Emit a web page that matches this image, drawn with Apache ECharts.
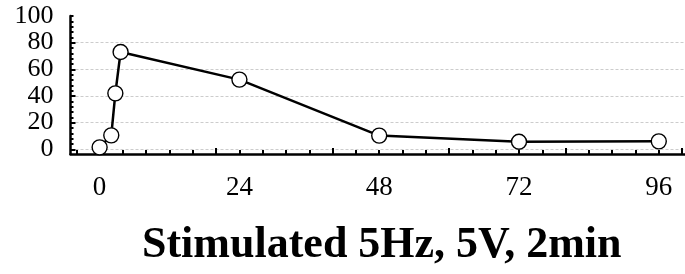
<!DOCTYPE html>
<html>
<head>
<meta charset="utf-8">
<script src="https://cdn.jsdelivr.net/npm/echarts@6/dist/echarts.min.js"></script>
<style>
  html, body { margin: 0; padding: 0; background: #fff; }
  #chart { width: 685px; height: 274px; }
</style>
</head>
<body>
<div id="chart"></div>
<script>
// time (h) and response values
var hours = [0, 2, 2.7, 3.6, 24, 48, 72, 96];
var values = [1.5, 10.5, 42, 73, 52.3, 10.3, 5.7, 6];

var xLabels = [0, 24, 48, 72, 96];
var xMajorTicks = [0, 20, 40, 60, 80, 100];
var xMinorTicks = [-4, 0, 4, 8, 12, 16, 20, 24, 28, 32, 36, 40, 44, 48, 52, 56, 60, 64, 68, 72, 76, 80, 84, 88, 92, 96, 100];
var yLabels = [0, 20, 40, 60, 80, 100];
var yMajorTicks = [0, 20, 40, 60, 80];
var yMinorTicks = [0, 4, 8, 12, 16, 20, 24, 28, 32, 36, 40, 44, 48, 52, 56, 60, 64, 68, 72, 76, 80, 84, 88, 92, 96, 100];

var points = [];
for (var i = 0; i < hours.length; i++) {
    points.push([hours[i], values[i]]);
}

var font = 'Liberation Serif';
var myChart = echarts.init(document.getElementById('chart'));
var option = {
    animation: false,
    backgroundColor: '#fff',
    title: {
        text: 'Stimulated 5Hz, 5V, 2min',
        left: 137,
        top: 219,
        textStyle: {
            fontFamily: font,
            fontSize: 44,
            fontWeight: 'bold',
            color: '#000'
        }
    },
    grid: {
        left: 70.5,
        right: 0,
        top: 16,
        bottom: 120
    },
    xAxis: [
        {
            type: 'value',
            position: 'bottom',
            min: -5,
            max: 100.5,
            axisLine: { onZero: false, lineStyle: { color: '#000', width: 2.5 } },
            axisTick: {
                inside: true,
                length: 6,
                customValues: xMajorTicks,
                lineStyle: { color: '#000', width: 2 }
            },
            axisLabel: {
                customValues: xLabels,
                margin: 20,
                fontFamily: font,
                fontSize: 27,
                color: '#000'
            },
            splitLine: { show: false }
        },
        {
            type: 'value',
            position: 'bottom',
            min: -5,
            max: 100.5,
            axisLine: { show: false, onZero: false },
            axisTick: {
                inside: true,
                length: 4,
                customValues: xMinorTicks,
                lineStyle: { color: '#000', width: 2 }
            },
            axisLabel: { show: false },
            splitLine: { show: false }
        }
    ],
    yAxis: [
        {
            type: 'value',
            position: 'left',
            min: -3.5,
            max: 100,
            axisLine: { onZero: false, lineStyle: { color: '#000', width: 2.5 } },
            axisTick: {
                inside: true,
                length: 5,
                customValues: yMajorTicks,
                lineStyle: { color: '#000', width: 2 }
            },
            axisLabel: {
                customValues: yLabels,
                margin: 17,
                fontFamily: font,
                fontSize: 26,
                color: '#000'
            },
            splitLine: {
                show: true,
                lineStyle: { color: '#cccccc', width: 1, type: [3, 2] }
            }
        },
        {
            type: 'value',
            position: 'left',
            min: -3.5,
            max: 100,
            axisLine: { show: false, onZero: false },
            axisTick: {
                inside: true,
                length: 3,
                customValues: yMinorTicks,
                lineStyle: { color: '#000', width: 2 }
            },
            axisLabel: { show: false },
            splitLine: { show: false }
        }
    ],
    series: [
        {
            type: 'line',
            xAxisIndex: 0,
            yAxisIndex: 0,
            data: points,
            symbol: 'circle',
            symbolSize: 15,
            lineStyle: { color: '#000', width: 2.5 },
            itemStyle: { color: '#fff', borderColor: '#000', borderWidth: 1.4 }
        }
    ]
};
myChart.setOption(option);
</script>
</body>
</html>
